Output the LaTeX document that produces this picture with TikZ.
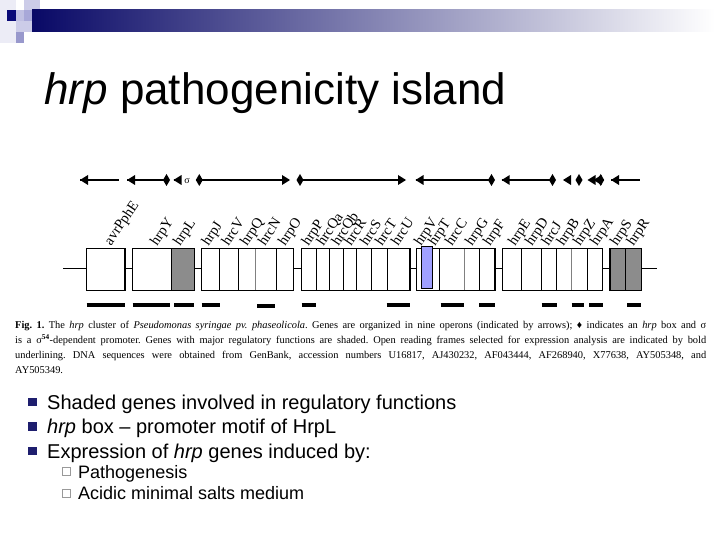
\documentclass[tikz,border=0pt]{standalone}
\usepackage{fontspec}
\setmainfont{Liberation Serif}
\newfontfamily\arialf[Ligatures=TeX]{Liberation Sans}
\frenchspacing
\definecolor{navy}{RGB}{10,10,120}
\definecolor{bulletblue}{RGB}{30,30,110}
\definecolor{shadegray}{RGB}{140,140,140}
\definecolor{bluebox}{RGB}{160,160,255}
\definecolor{sqA}{RGB}{236,236,246}
\definecolor{sqB}{RGB}{192,192,226}
\definecolor{sqC}{RGB}{168,168,216}
\definecolor{sqD}{RGB}{204,204,232}
\definecolor{sqE}{RGB}{152,152,204}
\definecolor{barmid}{RGB}{150,150,180}
\newcommand{\opTipL}[1]{\fill (#1,180) -- (#1+8,175) -- (#1+8,185) -- cycle;}
\newcommand{\opTipR}[1]{\fill (#1,180) -- (#1-8,175) -- (#1-8,185) -- cycle;}
\newcommand{\opDmd}[1]{\fill (#1-3.5,180) -- (#1,174) -- (#1+3.5,180) -- (#1,186) -- cycle;}
\begin{document}
\begin{tikzpicture}[x=1pt,y=-1pt,
  genebox/.style={draw=black, line width=1.5pt},
  divider/.style={line width=0.9pt},
  underbar/.style={line width=4pt},
  operon/.style={line width=1.3pt},
  genelab/.style={rotate=56, anchor=base west, inner sep=0pt, font=\fontsize{14.5}{14.5}\selectfont},
  capline/.style={anchor=base west, inner sep=0pt, font=\fontsize{10.4}{12}\selectfont},
  bul/.style={anchor=base west, inner sep=0pt, font=\arialf\fontsize{20}{24}\selectfont},
  subbul/.style={anchor=base west, inner sep=0pt, font=\arialf\fontsize{18}{22}\selectfont}]
\useasboundingbox (0,0) rectangle (720,540);
\fill[white] (0,0) rectangle (720,540);
% header decoration
\fill[sqA] (0,0) rectangle (16,43);
\fill[sqD] (16,21) rectangle (32,32);
\fill[sqE] (16,32) rectangle (24,43);
\fill[sqB] (16,10) rectangle (24,21);
\fill[sqC] (24,10) rectangle (32,21);
\fill[sqD] (24,0) rectangle (40,10);
\fill[sqD] (32,10) rectangle (40,21);
\fill[navy] (7,10) rectangle (16,21);
\shade[left color=navy!85!black, middle color=barmid, right color=white] (32,10) rectangle (715,32);
% title
\node[anchor=base west, inner sep=0pt, font=\arialf\fontsize{44}{48}\selectfont] (title) at (44,105) {\textit{hrp} pathogenicity island};
% operon arrows
\draw[operon] (80,180) -- (119,180);
\opTipL{80}
\draw[operon] (127,180) -- (166.5,180);
\opTipL{127}
\opDmd{166.5}
\draw[operon] (173.5,180) -- (181,180);
\opTipL{173.5}
\node[inner sep=0pt, font=\fontsize{10}{10}\selectfont] (sigma) at (187,181) {σ};
\opDmd{199.3}
\draw[operon] (199.3,180) -- (285,180);
\opTipR{290}
\opDmd{300}
\draw[operon] (300,180) -- (400,180);
\opTipR{406}
\draw[operon] (415.5,180) -- (491.5,180);
\opTipL{415.5}
\opDmd{491.5}
\draw[operon] (501.7,180) -- (552.5,180);
\opTipL{501.7}
\opDmd{552.5}
\opTipL{563}
\opDmd{579}
\opTipL{587.5}
\opTipL{593.5}
\opDmd{600.7}
\draw[operon] (611,180) -- (640,180);
\opTipL{611}
% backbone
\draw[line width=1pt] (63,268) -- (657,268);
% gene boxes
\fill[white] (86.7,248.5) rectangle (125,290.5);
\draw[genebox] (86.7,248.5) rectangle (125,290.5);
\fill[white] (132.7,248.5) rectangle (171.7,290.5);
\fill[shadegray] (171.7,248.5) rectangle (194.3,290.5);
\draw[genebox] (132.7,248.5) rectangle (194.3,290.5);
\draw[genebox] (171.7,248.5) -- (171.7,290.5);
\fill[white] (201.7,248.5) rectangle (293.3,290.5);
\foreach \d in {219.3,238.7,276.7} \draw[divider] (\d,248.5) -- (\d,290.5);
\draw[divider, gray] (255.7,248.5) -- (255.7,290.5);
\draw[genebox] (201.7,248.5) rectangle (293.3,290.5);
\fill[white] (301.7,248.5) rectangle (410,290.5);
\foreach \d in {316,329.3,343.3,356.7,371.7,387.3} \draw[divider] (\d,248.5) -- (\d,290.5);
\draw[genebox] (301.7,248.5) rectangle (410,290.5);
\fill[white] (416.7,248.5) rectangle (495,290.5);
\foreach \d in {439.3,479.3} \draw[divider] (\d,248.5) -- (\d,290.5);
\draw[divider, gray] (464,248.5) -- (464,290.5);
\draw[genebox] (416.7,248.5) rectangle (495,290.5);
\draw[fill=bluebox, line width=1pt] (421,246) rectangle (432.7,288.5);
\fill[white] (502.7,248.5) rectangle (602.3,290.5);
\foreach \d in {521.7,541.7,556.7,587.3} \draw[divider] (\d,248.5) -- (\d,290.5);
\draw[divider, gray] (571.7,248.5) -- (571.7,290.5);
\draw[genebox] (502.7,248.5) rectangle (602.3,290.5);
\fill[shadegray] (610,248.5) rectangle (641.3,290.5);
\draw[divider] (625.7,248.5) -- (625.7,290.5);
\draw[genebox] (610,248.5) rectangle (641.3,290.5);
% underlines
\foreach \a/\b in {86.7/125,132.7/170,174/194.3,201.7/220,301.7/315.7,386.7/410,440.7/464,479/495,541.7/556.7,571.7/584.3,589/602.7,627.3/641.3}
  \draw[underbar] (\a,304.5) -- (\b,304.5);
\draw[underbar] (257.3,305.5) -- (275,305.5);
% gene labels
\foreach \x/\t in {111/avrPphE,157/hrpY,180/hrpL,208.5/hrpJ,228.5/hrcV,247/hrpQ,265/hrcN,285/hrpO,308.5/hrpP,323.5/hrcQa,338.5/hrcQb,351/hrcR,367/hrcS,382/hrcT,398/hrcU,421/hrpV,435/hrpT,452/hrcC,472/hrpG,490/hrpF,515/hrpE,532/hrpD,548.5/hrcJ,563.5/hrpB,580/hrpZ,597/hrpA,617/hrpS,633.5/hrpR}
  \node[genelab] at (\x,246.5) {\t};
% caption
\node[capline] (cap1) at (15,328) {\makebox[691pt][s]{\textbf{Fig. 1.} The \textit{hrp} cluster of \textit{Pseudomonas syringae pv. phaseolicola}. Genes are organized in nine operons (indicated by arrows); ♦ indicates an \textit{hrp} box and σ}};
\node[capline] (cap2) at (15,343) {\makebox[691pt][s]{is a σ\textsuperscript{\textbf{54}}-dependent promoter. Genes with major regulatory functions are shaded. Open reading frames selected for expression analysis are indicated by bold}};
\node[capline] (cap3) at (15,358) {\makebox[691pt][s]{underlining. DNA sequences were obtained from GenBank, accession numbers U16817, AJ430232, AF043444, AF268940, X77638, AY505348, and}};
\node[capline] (cap4) at (15,373) {AY505349.};
% bullets
\foreach \y in {402,426.5,451} \fill[bulletblue] (28,\y-4.2) rectangle (36.5,\y+4.2);
\node[bul] (b1) at (47,409) {Shaded genes involved in regulatory functions};
\node[bul] (b2) at (47,433.5) {\textit{hrp} box – promoter motif of HrpL};
\node[bul] (b3) at (47,458) {Expression of \textit{hrp} genes induced by:};
\foreach \y in {471.5,493} \draw[gray!80, line width=0.8pt] (62.5,\y-4) rectangle (70.5,\y+4);
\node[subbul] (s1) at (78,478) {Pathogenesis};
\node[subbul] (s2) at (78,499.5) {Acidic minimal salts medium};
\end{tikzpicture}
\end{document}
